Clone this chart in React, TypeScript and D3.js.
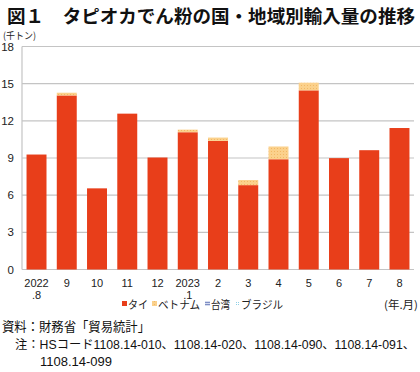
import React from "react";
import * as d3 from "d3";

const categories = ["2022\n.8", "9", "10", "11", "12", "2023\n.1", "2", "3", "4", "5", "6", "7", "8"];
const thai = [9.28, 14.05, 6.55, 12.58, 9.04, 11.08, 10.38, 6.81, 8.9, 14.46, 8.99, 9.63, 11.42];
const vietnam = [0, 0.22, 0, 0, 0, 0.21, 0.27, 0.41, 1.03, 0.62, 0, 0, 0];
const taiwan = [0, 0, 0, 0, 0, 0, 0, 0, 0, 0, 0, 0, 0];
const brazil = [0, 0, 0, 0, 0, 0, 0, 0, 0, 0, 0, 0, 0];
const seriesNames = ["タイ", "ベトナム", "台湾", "ブラジル"];
const yTicks = [0, 3, 6, 9, 12, 15, 18];

const W = 420;
const H = 372;
const FONT = "'Liberation Sans', 'Noto Sans CJK JP', sans-serif";
const JFONT = "'Noto Sans CJK JP', sans-serif";

export default function App() {
  const x = d3
    .scaleBand<string>()
    .domain(categories)
    .range([22, 414])
    .paddingInner(0.34)
    .paddingOuter(0.15);
  const y = d3.scaleLinear().domain([0, 18]).range([269.5, 46.5]);

  const table = categories.map((c, i) => ({
    cat: c,
    thai: thai[i],
    vietnam: vietnam[i],
    taiwan: taiwan[i],
    brazil: brazil[i],
  }));
  const keys = ["thai", "vietnam", "taiwan", "brazil"];
  const stack = d3.stack<any>().keys(keys)(table);
  const fills = ["#e83e1a", "url(#vnPat)", "url(#twPat)", "url(#brPat)"];

  const legendItems = [
    { x: 122, w: 20, label: seriesNames[0], fill: "#e83e1a" },
    { x: 152, w: 42, label: seriesNames[1], fill: "url(#vnPat)" },
    { x: 205, w: 19, label: seriesNames[2], fill: "url(#twPat)" },
    { x: 235, w: 42, label: seriesNames[3], fill: "url(#brPat)" },
  ];

  return (
    <svg
      width={W}
      height={H}
      style={{ position: "absolute", left: 0, top: 0, background: "#fff" }}
    >
      <defs>
        <pattern id="vnPat" width="3" height="3" patternUnits="userSpaceOnUse">
          <rect width="3" height="3" fill="#fbd18c" />
          <rect x="1" y="1" width="1" height="1" fill="#f2b865" />
        </pattern>
        <pattern id="twPat" width="3" height="2" patternUnits="userSpaceOnUse">
          <rect width="3" height="2" fill="#d6dcef" />
          <rect width="3" height="1" fill="#7f8fc4" />
        </pattern>
        <pattern id="brPat" width="2" height="2" patternUnits="userSpaceOnUse">
          <rect width="2" height="2" fill="#ffffff" />
          <rect width="1" height="1" fill="#8fd0e6" />
        </pattern>
      </defs>

      <text
        x={7}
        y={23}
        fontFamily={JFONT}
        fontWeight="bold"
        fontSize={18}
        fill="#111"
        textLength={408}
        lengthAdjust="spacingAndGlyphs"
      >
        図１　タピオカでん粉の国・地域別輸入量の推移
      </text>

      <text x={3} y={39} fontFamily={JFONT} fontSize={9.5} fill="#222" textLength={33} lengthAdjust="spacingAndGlyphs">
        (千トン)
      </text>

      {yTicks.map((t) => (
        <g key={t}>
          {t > 0 && (
            <line x1={22} x2={t === 18 ? 420 : 414} y1={y(t)} y2={y(t)} stroke="#c4c4c4" strokeWidth={1.2} />
          )}
          <text
            x={14}
            y={y(t) + 4}
            textAnchor="end"
            fontFamily={FONT}
            fontSize={11.5}
            fill="#222"
          >
            {t}
          </text>
        </g>
      ))}
      <line x1={22} x2={22} y1={y(18)} y2={y(0)} stroke="#c4c4c4" strokeWidth={1.2} />
      <line x1={22} x2={414} y1={y(0)} y2={y(0)} stroke="#c4c4c4" strokeWidth={1.2} />

      {stack.map((s, si) =>
        s.map((d, i) =>
          d[1] - d[0] > 0 ? (
            <rect
              key={si + "-" + i}
              x={x(categories[i])}
              y={y(d[1])}
              width={x.bandwidth()}
              height={y(d[0]) - y(d[1])}
              fill={fills[si]}
            />
          ) : null
        )
      )}

      {categories.map((c) => {
        const lines = c.split("\n");
        const cx = (x(c) as number) + x.bandwidth() / 2;
        return (
          <text key={c} textAnchor="middle" fontFamily={FONT} fontSize={11} fill="#222">
            {lines.map((l, li) => (
              <tspan key={li} x={cx} y={287 + li * 11.5}>
                {l}
              </tspan>
            ))}
          </text>
        );
      })}

      {legendItems.map((it) => (
        <g key={it.label}>
          <rect x={it.x} y={301} width={5} height={5} fill={it.fill} />
          <text
            x={it.x + 6}
            y={309}
            fontFamily={JFONT}
            fontSize={11}
            fill="#222"
            textLength={it.w}
            lengthAdjust="spacingAndGlyphs"
          >
            {it.label}
          </text>
        </g>
      ))}

      <text x={384} y={309} fontFamily={JFONT} fontSize={11} fill="#222" textLength={34} lengthAdjust="spacingAndGlyphs">
        (年.月)
      </text>

      <text x={2} y={331} fontFamily={JFONT} fontSize={13} fill="#111" textLength={148} lengthAdjust="spacingAndGlyphs">
        資料：財務省「貿易統計」
      </text>
      <text x={15} y={349} fontFamily={FONT} fontSize={12} fill="#111" textLength={400} lengthAdjust="spacingAndGlyphs">
        注：HSコード1108.14-010、1108.14-020、1108.14-090、1108.14-091、
      </text>
      <text x={40} y={366} fontFamily={FONT} fontSize={13} fill="#111">
        1108.14-099
      </text>
    </svg>
  );
}
